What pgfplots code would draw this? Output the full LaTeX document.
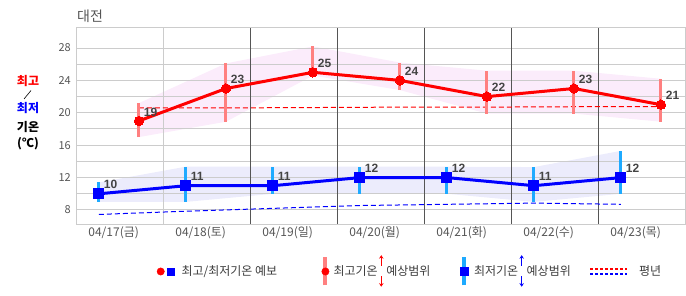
\documentclass[border=0pt]{standalone}
\usepackage{fontspec}
\setmainfont{Noto Sans CJK KR}
\newfontfamily\numfont{Liberation Sans}
\usepackage{pgfplots}
\usetikzlibrary{arrows.meta}
\pgfplotsset{compat=1.18}
\definecolor{hired}{RGB}{255,128,128}
\definecolor{locyan}{RGB}{30,170,255}
\definecolor{pinkband}{RGB}{251,236,251}
\definecolor{blueband}{RGB}{236,236,252}
\definecolor{gridgray}{RGB}{204,204,204}
\definecolor{darkgrid}{RGB}{85,85,85}
\definecolor{ticktext}{RGB}{85,85,85}
\definecolor{lbl}{RGB}{68,68,68}
\definecolor{legtext}{RGB}{60,60,60}
\newcommand{\rarr}[1]{\makebox[6pt]{\smash{\tikz[baseline=0pt]{\path[draw=none,fill=none] (-2pt,0pt) rectangle (2pt,1pt);
  \draw[#1, line width=1.2pt, -{Stealth[length=3.5pt,width=4.5pt]}] (0pt,10pt) -- (0pt,20.5pt);
  \draw[#1, line width=1.2pt, -{Stealth[length=3.5pt,width=4.5pt]}] (0pt,-0.5pt) -- (0pt,-11pt);}}}}
\begin{document}
\begin{tikzpicture}
\path (0,0) rectangle (686pt,295pt);
\begin{axis}[
  at={(76pt,71pt)}, anchor=south west,
  scale only axis, width=609pt, height=196pt,
  xmin=0, xmax=7, ymin=6.27, ymax=30.47,
  set layers,
  axis line style={gridgray, line width=1pt},
  ytick={8,12,16,20,24,28},
  minor ytick={10,14,18,22,26},
  ymajorgrids, yminorgrids,
  major grid style={gridgray, line width=1pt},
  minor grid style={gridgray, line width=1pt},
  xtick={0.433,1.433,2.433,3.433,4.433,5.433,6.433},
  xticklabels={04/17(금),04/18(토),04/19(일),04/20(월),04/21(화),04/22(수),04/23(목)},
  xmajorgrids=false,
  minor xtick={1}, xminorgrids,
  extra x ticks={2,3,4,5,6,7},
  extra x tick labels={,,,,,},
  extra x tick style={xmajorgrids=true, major grid style={darkgrid, line width=1pt}},
  major tick length=0pt, minor tick length=0pt,
  tick style={draw=none},
  /pgf/number format/assume math mode=true,
  yticklabel style={font=\fontsize{11}{11}\selectfont, text=ticktext, inner sep=0pt, xshift=-5pt},
  xticklabel style={font=\fontsize{12}{12}\selectfont, text=ticktext, inner sep=0pt, yshift=-2pt},
  legend columns=4,
  legend style={at={(axis description cs:0.1327,-0.2423)}, anchor=west, draw=none, fill=none,
    inner sep=0pt, outer sep=0pt, column sep=0pt,
    nodes={inner sep=0pt, font=\fontsize{12}{12}\selectfont, text=legtext}},
  legend cell align=left,
]
% legend
\addlegendimage{legend image code/.code={
  \path[draw=none,fill=none] (0pt,-14pt) rectangle (17pt,14pt);
  \fill[red] (3.7pt,0pt) circle (3.7pt);
  \fill[blue] (9.7pt,-3.5pt) rectangle (16.7pt,3.5pt);}}
\addlegendentry{\makebox[147.5pt][l]{\hspace{7.5pt}최고/최저기온 예보}}
\addlegendimage{legend image code/.code={
  \path[draw=none,fill=none] (0pt,-14pt) rectangle (7.4pt,14pt);
  \draw[hired, line width=4pt] (3.7pt,-14pt) -- (3.7pt,14pt);
  \fill[red] (3.7pt,0pt) circle (3.7pt);}}
\addlegendentry{\makebox[130.6pt][l]{\hspace{4.3pt}최고기온\hspace{0.5pt}\rarr{red}\hspace{2pt}예상범위}}
\addlegendimage{legend image code/.code={
  \path[draw=none,fill=none] (0pt,-14pt) rectangle (8pt,14pt);
  \draw[locyan, line width=4pt] (4pt,-14pt) -- (4pt,14pt);
  \fill[blue] (0pt,-4pt) rectangle (8pt,4pt);}}
\addlegendentry{\makebox[120.7pt][l]{\hspace{5.7pt}최저기온\hspace{0.5pt}\rarr{blue}\hspace{2pt}예상범위}}
\addlegendimage{legend image code/.code={
  \path[draw=none,fill=none] (0pt,-14pt) rectangle (37pt,14pt);
  \draw[red, line width=2pt, dash pattern=on 3pt off 2pt] (0pt,2.8pt) -- (37pt,2.8pt);
  \draw[blue, line width=2pt, dash pattern=on 3pt off 2pt] (0pt,-2.8pt) -- (37pt,-2.8pt);}}
\addlegendentry{\makebox[35pt][l]{\hspace{11pt}평년}}

% bands
\addplot[fill=pinkband, draw=none, on layer=axis background, forget plot] coordinates {
  (0.724,21.2) (1.724,26.1) (2.724,28.2) (3.724,26.2) (4.724,25.2) (5.724,25.2) (6.724,24.2)
  (6.724,18.9) (5.724,19.9) (4.724,19.9) (3.724,22.8) (2.724,24.6) (1.724,18.9) (0.724,17.0)} -- cycle;
\addplot[fill=blueband, draw=none, on layer=axis background, forget plot] coordinates {
  (0.264,11.4) (1.264,13.35) (2.264,13.35) (3.264,13.35) (4.264,13.35) (5.264,13.3) (6.264,15.3)
  (6.264,10.0) (5.264,9.0) (4.264,10.0) (3.264,10.0) (2.264,10.0) (1.264,9.0) (0.264,9.0)} -- cycle;

% normals
\addplot[red, line width=1pt, dash pattern=on 5pt off 3pt, forget plot] coordinates {
  (0.724,20.6) (1.724,20.6) (2.724,20.65) (3.724,20.7) (4.724,20.7) (5.724,20.75) (6.724,20.75)};
\addplot[blue, line width=1pt, dash pattern=on 5pt off 3pt, forget plot] coordinates {
  (0.264,7.45) (1.264,7.85) (2.264,8.2) (3.264,8.55) (4.264,8.7) (5.264,8.85) (6.264,8.7)};

% range bars
\addplot[hired, line width=3pt, unbounded coords=jump, forget plot] coordinates {
  (0.724,17.0) (0.724,21.2) (0.724,nan)
  (1.724,18.9) (1.724,26.1) (1.724,nan)
  (2.724,24.6) (2.724,28.2) (2.724,nan)
  (3.724,22.8) (3.724,26.2) (3.724,nan)
  (4.724,19.9) (4.724,25.2) (4.724,nan)
  (5.724,19.9) (5.724,25.2) (5.724,nan)
  (6.724,18.9) (6.724,24.2)};
\addplot[locyan, line width=3pt, unbounded coords=jump, forget plot] coordinates {
  (0.264,9.0) (0.264,11.4) (0.264,nan)
  (1.264,9.0) (1.264,13.35) (1.264,nan)
  (2.264,10.0) (2.264,13.35) (2.264,nan)
  (3.264,10.0) (3.264,13.35) (3.264,nan)
  (4.264,10.0) (4.264,13.35) (4.264,nan)
  (5.264,9.0) (5.264,13.3) (5.264,nan)
  (6.264,10.0) (6.264,15.3)};

% main lines
\addplot[red, line width=3pt, mark=*, mark size=4.7pt, mark options={solid, fill=red, draw=red, line width=0pt},
  nodes near coords, every node near coord/.append style={anchor=west, xshift=5pt, yshift=9pt, inner sep=0pt,
  font=\numfont\bfseries\fontsize{12}{12}\selectfont, text=lbl}, forget plot] coordinates {
  (0.724,19) (1.724,23) (2.724,25) (3.724,24) (4.724,22) (5.724,23) (6.724,21)};
\addplot[blue, line width=3pt, mark=square*, mark size=5pt, mark options={solid, fill=blue, draw=blue, line width=0pt},
  nodes near coords, every node near coord/.append style={anchor=west, xshift=5pt, yshift=9pt, inner sep=0pt,
  font=\numfont\bfseries\fontsize{12}{12}\selectfont, text=lbl}, forget plot] coordinates {
  (0.264,10) (1.264,11) (2.264,11) (3.264,12) (4.264,12) (5.264,11) (6.264,12)};
\end{axis}
% titles
\node[anchor=west, text=ticktext, font=\fontsize{14}{14}\selectfont, inner sep=0pt] at (77pt,279pt) {대전};
\node[text=red, font=\bfseries\fontsize{12}{12}\selectfont, inner sep=0pt] at (28pt,214pt) {최고};
\draw[black, line width=0.6pt] (31pt,204.5pt) -- (24pt,196pt);
\node[text=blue, font=\bfseries\fontsize{12}{12}\selectfont, inner sep=0pt] at (28pt,186.5pt) {최저};
\node[text=black, font=\bfseries\fontsize{12}{12}\selectfont, inner sep=0pt] at (28pt,168pt) {기온};
\node[text=black, font=\bfseries\fontsize{12}{12}\selectfont, inner sep=0pt] at (28pt,151pt) {(℃)};
\end{tikzpicture}
\end{document}
